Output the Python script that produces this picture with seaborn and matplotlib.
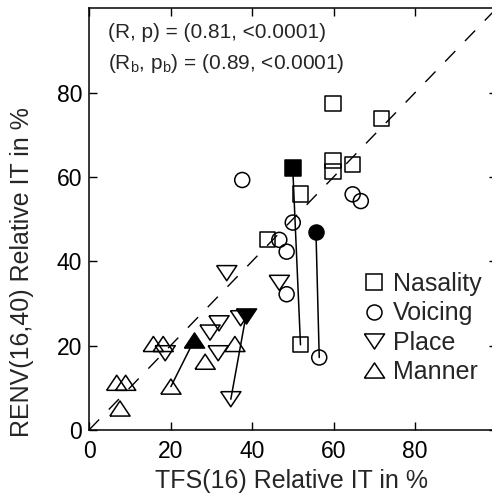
import numpy as np
import pandas as pd
import matplotlib
matplotlib.use("Agg")
import matplotlib.pyplot as plt
from matplotlib.lines import Line2D
import seaborn as sns

# ---- data ----
nas_x = [59.9, 71.8, 59.9, 59.9, 64.7, 51.9, 43.8, 51.9]
nas_y = [77.5, 73.9, 64.0, 61.3, 63.0, 56.0, 45.1, 20.2]
voi_x = [37.6, 64.7, 66.7, 50.0, 46.7, 48.5, 48.5, 56.5]
voi_y = [59.3, 55.9, 54.3, 49.2, 45.1, 42.3, 32.2, 17.2]
pla_x = [33.8, 46.7, 37.2, 31.9, 29.7, 31.7, 18.7, 34.8]
pla_y = [37.2, 34.9, 26.5, 25.3, 23.1, 18.2, 18.2, 7.3]
man_x = [35.8, 28.5, 15.8, 18.2, 20.1, 6.8, 9.0, 7.6]
man_y = [20.4, 16.2, 20.4, 20.4, 10.3, 11.2, 11.2, 5.1]

cues = ["Nasality", "Voicing", "Place", "Manner"]
# filled markers and the open marker each one is joined to
fill_x = [50.0, 55.7, 38.5, 25.8]
fill_y = [62.1, 46.9, 27.0, 21.3]
end_x = [51.9, 56.5, 34.8, 20.1]
end_y = [20.2, 17.2, 7.3, 10.3]

xticks = [0, 20, 40, 60, 80]
yticks = [0, 20, 40, 60, 80]
stats1 = "(R, p) = (0.81, <0.0001)"
stats2 = r"(R$_\mathregular{b}$, p$_\mathregular{b}$) = (0.89, <0.0001)"

# ---- style ----
sns.set_theme(style="ticks")
plt.rcParams["font.family"] = ["Liberation Sans", "DejaVu Sans"]
plt.rcParams["mathtext.fontset"] = "custom"
plt.rcParams["mathtext.rm"] = "Liberation Sans"
plt.rcParams["mathtext.it"] = "Liberation Sans:italic"

up_tri = [(-1, -0.75), (1, -0.75), (0, 0.75), (-1, -0.75)]
dn_tri = [(-1, 0.75), (1, 0.75), (0, -0.75), (-1, 0.75)]
mk = {"Nasality": "s", "Voicing": "o", "Place": dn_tri, "Manner": up_tri}
ms = {"Nasality": 11.0, "Voicing": 10.8, "Place": 14.5, "Manner": 14.5}

df = pd.concat([
    pd.DataFrame({"x": nas_x, "y": nas_y, "cue": "Nasality"}),
    pd.DataFrame({"x": voi_x, "y": voi_y, "cue": "Voicing"}),
    pd.DataFrame({"x": pla_x, "y": pla_y, "cue": "Place"}),
    pd.DataFrame({"x": man_x, "y": man_y, "cue": "Manner"}),
], ignore_index=True)
dff = pd.DataFrame({"x": fill_x, "y": fill_y, "cue": cues})

W, H = 492, 494
fig = plt.figure(figsize=(W / 100, H / 100), dpi=100)
ax = fig.add_axes([89 / W, (H - 430) / H, 407.5 / W, 421.6 / H])

# identity line
ax.plot([0, 100], [0, 100], color="black", lw=1.0, linestyle=(0, (10.5, 10)), zorder=1)

# connecting lines
for i in range(len(cues)):
    sns.lineplot(x=[fill_x[i], end_x[i]], y=[fill_y[i], end_y[i]], ax=ax,
                 color="black", lw=1.1, sort=False, estimator=None, zorder=2)

for c in cues:
    sub = df[df.cue == c]
    sns.scatterplot(data=sub, x="x", y="y", marker=mk[c], s=ms[c] ** 2,
                    facecolor="none", edgecolor="black", linewidth=1.1,
                    ax=ax, legend=False, zorder=3)
    subf = dff[dff.cue == c]
    sns.scatterplot(data=subf, x="x", y="y", marker=mk[c], s=ms[c] ** 2,
                    color="black", edgecolor="black", linewidth=1.1,
                    ax=ax, legend=False, zorder=4)

ax.set_xlim(0, 100)
ax.set_ylim(0, 100)
ax.set_xticks(xticks)
ax.set_yticks(yticks)
ax.tick_params(direction="in", length=6, width=1.0, labelsize=16.5,
               top=True, right=True, colors="black")
ax.tick_params(axis="x", pad=7)
ax.tick_params(axis="y", pad=5)
for s in ax.spines.values():
    s.set_linewidth(1.1)
    s.set_color("black")

ax.set_xlabel("TFS(16) Relative IT in %", fontsize=18)
ax.set_ylabel("RENV(16,40) Relative IT in %", fontsize=18)
ax.xaxis.set_label_coords(0.498, (430 - 481) / 421.6)
ax.xaxis.label.set_va("center")
ax.yaxis.set_label_coords((22 - 89) / 407.5, (430 - 272) / 421.6)
ax.yaxis.label.set_va("center")

ax.text(4.7, 94.2, stats1, fontsize=15, va="center", ha="left")
ax.text(4.7, 87.0, stats2, fontsize=15, va="center", ha="left")

handles = [Line2D([], [], marker=mk[c], linestyle="none", markersize=ms[c],
                  markerfacecolor="none", markeredgecolor="black",
                  markeredgewidth=1.1) for c in cues]
leg = ax.legend(handles, cues, loc="upper left",
                bbox_to_anchor=(364 / W, 1 - 272 / H),
                bbox_transform=fig.transFigure, frameon=False,
                fontsize=18, handlelength=0.8, handletextpad=0.36,
                labelspacing=0.21, borderpad=0, borderaxespad=0)

fig.savefig("out.png", dpi=100)
